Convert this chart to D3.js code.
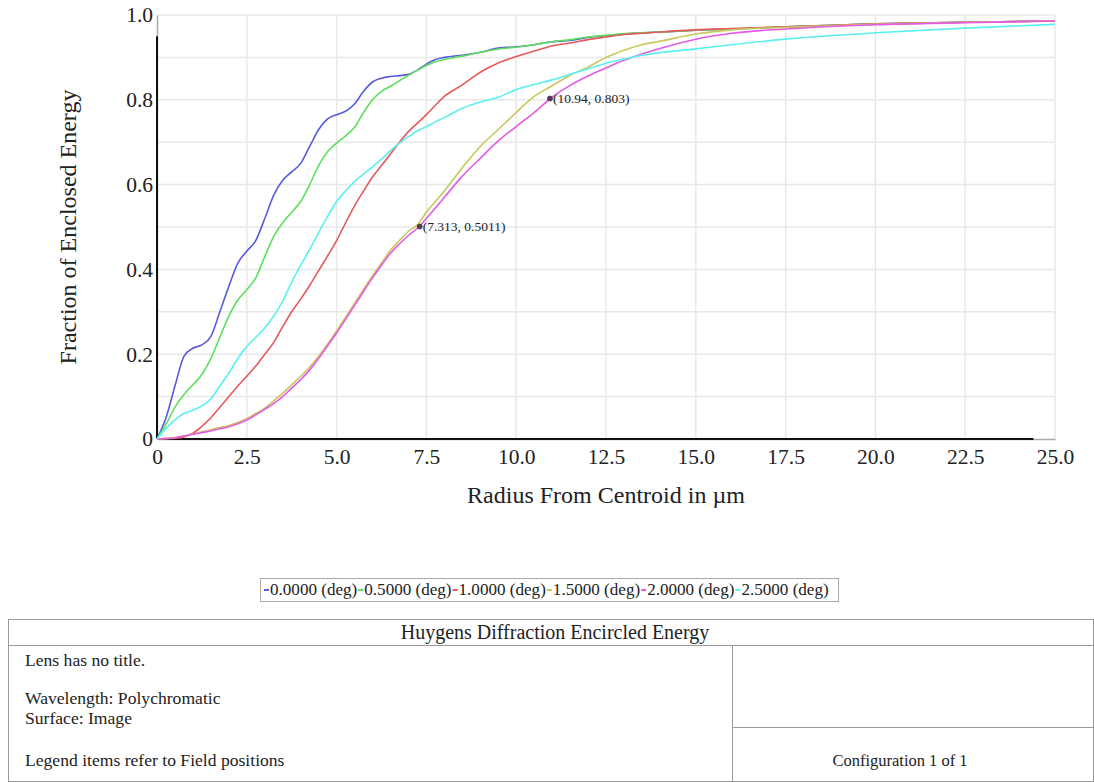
<!DOCTYPE html>
<html>
<head>
<meta charset="utf-8">
<script src="https://cdn.jsdelivr.net/npm/d3@7"></script>
<style>
  html, body { margin: 0; padding: 0; background: #fff; }
  svg { display: block; }
  svg text { font-family: "Liberation Serif", "DejaVu Serif", serif; }
</style>
</head>
<body>
<svg id="chart" width="1094" height="782"></svg>
<script>
// ---------- data ----------
const radius = [0,0.25,0.5,0.75,1,1.25,1.5,1.75,2,2.25,2.5,2.75,3,3.25,3.5,3.75,4,4.25,4.5,4.75,5,5.25,5.5,5.75,6,6.25,6.5,6.75,7,7.25,7.5,7.75,8,8.5,9,9.5,10,10.5,11,11.5,12,12.5,13,13.5,14,15,16,17.5,20,22.5,25];

const field0_0 = [0,0.05,0.125,0.195,0.214,0.222,0.242,0.3,0.36,0.415,0.443,0.468,0.52,0.575,0.61,0.63,0.65,0.69,0.73,0.755,0.765,0.773,0.79,0.82,0.842,0.851,0.855,0.857,0.86,0.87,0.884,0.895,0.9,0.905,0.912,0.922,0.925,0.93,0.937,0.94,0.947,0.951,0.955,0.958,0.96,0.964,0.967,0.972,0.979,0.983,0.986];
const field0_5 = [0,0.035,0.075,0.105,0.128,0.152,0.19,0.24,0.29,0.328,0.352,0.38,0.43,0.478,0.51,0.535,0.56,0.6,0.645,0.678,0.698,0.715,0.735,0.77,0.8,0.82,0.832,0.845,0.858,0.87,0.881,0.89,0.895,0.903,0.912,0.92,0.924,0.93,0.937,0.942,0.948,0.952,0.956,0.958,0.96,0.964,0.967,0.972,0.979,0.983,0.986];
const field1_0 = [0,0.001,0.002,0.005,0.014,0.03,0.05,0.075,0.1,0.125,0.148,0.172,0.2,0.228,0.265,0.3,0.33,0.362,0.397,0.432,0.468,0.51,0.55,0.585,0.618,0.645,0.672,0.7,0.725,0.745,0.765,0.787,0.808,0.835,0.865,0.887,0.902,0.915,0.927,0.934,0.942,0.948,0.954,0.957,0.96,0.965,0.968,0.972,0.979,0.983,0.986];
const field1_5 = [0,0.001,0.003,0.007,0.012,0.017,0.022,0.027,0.032,0.039,0.048,0.06,0.073,0.09,0.108,0.128,0.148,0.17,0.195,0.224,0.255,0.287,0.32,0.353,0.385,0.415,0.445,0.468,0.49,0.505,0.535,0.56,0.585,0.64,0.69,0.73,0.77,0.808,0.833,0.858,0.877,0.9,0.917,0.93,0.938,0.955,0.965,0.971,0.978,0.983,0.986];
const field2_0 = [0,0.001,0.003,0.007,0.011,0.015,0.019,0.024,0.029,0.036,0.045,0.057,0.07,0.084,0.1,0.12,0.14,0.163,0.19,0.22,0.25,0.282,0.315,0.348,0.38,0.41,0.438,0.46,0.48,0.497,0.52,0.545,0.57,0.62,0.662,0.703,0.737,0.77,0.806,0.834,0.856,0.875,0.893,0.908,0.921,0.943,0.957,0.967,0.977,0.982,0.986];
const field2_5 = [0,0.025,0.045,0.06,0.068,0.078,0.095,0.125,0.155,0.19,0.218,0.24,0.262,0.29,0.325,0.37,0.41,0.447,0.487,0.525,0.56,0.585,0.607,0.625,0.642,0.66,0.68,0.698,0.713,0.727,0.737,0.748,0.758,0.78,0.795,0.806,0.824,0.836,0.847,0.86,0.873,0.886,0.896,0.905,0.911,0.92,0.93,0.943,0.958,0.969,0.978];

const seriesNames = ["0.0000 (deg)","0.5000 (deg)","1.0000 (deg)","1.5000 (deg)","2.0000 (deg)","2.5000 (deg)"];
const seriesValues = [field0_0, field0_5, field1_0, field1_5, field2_0, field2_5];
const seriesColors = ["#5a5ae0","#5ce05c","#e45a5a","#c8c85a","#e65ae6","#5af0f0"];

const xTicks = [0,2.5,5,7.5,10,12.5,15,17.5,20,22.5,25];
const xTickLabels = ["0","2.5","5.0","7.5","10.0","12.5","15.0","17.5","20.0","22.5","25.0"];
const yTicks = [0,0.2,0.4,0.6,0.8,1.0];
const yTickLabels = ["0","0.2","0.4","0.6","0.8","1.0"];
const yGrid = [0.1,0.2,0.3,0.4,0.5,0.6,0.7,0.8,0.9,1.0];

const markerX = [7.313, 10.94];
const markerY = [0.5011, 0.803];
const markerLabels = ["(7.313, 0.5011)", "(10.94, 0.803)"];

const xTitle = "Radius From Centroid in µm";
const yTitle = "Fraction of Enclosed Energy";
const tableTitle = "Huygens Diffraction Encircled Energy";
const infoLines = ["Lens has no title.", "Wavelength: Polychromatic", "Surface: Image", "Legend items refer to Field positions"];
const configText = "Configuration 1 of 1";

// ---------- layout ----------
const SERIF = "Liberation Serif, DejaVu Serif, serif";
const svg = d3.select("#chart");
const x = d3.scaleLinear().domain([0, 25]).range([157, 1055]);
const y = d3.scaleLinear().domain([0, 1]).range([439, 15]);

// grid
const grid = svg.append("g");
grid.selectAll("line.v").data(xTicks.slice(1)).join("line")
  .attr("x1", d => x(d)).attr("x2", d => x(d))
  .attr("y1", y(1)).attr("y2", y(0))
  .attr("stroke", "#e8e8e8").attr("stroke-width", 1.5);
grid.selectAll("line.h").data(yGrid).join("line")
  .attr("x1", x(0)).attr("x2", x(25))
  .attr("y1", d => y(d)).attr("y2", d => y(d))
  .attr("stroke", "#e8e8e8").attr("stroke-width", 1.5);

// axes
const xAxis = d3.axisBottom(x).tickValues(xTicks).tickFormat((d, i) => xTickLabels[i]).tickSize(0).tickPadding(10);
const yAxis = d3.axisLeft(y).tickValues(yTicks).tickFormat((d, i) => yTickLabels[i]).tickSize(0).tickPadding(4);

const gx = svg.append("g").attr("transform", `translate(0,${y(0)})`).call(xAxis);
gx.attr("font-family", SERIF);
gx.select(".domain").attr("stroke", "#aaa").attr("stroke-width", 1.5);
gx.append("line").attr("x1", x(0)).attr("x2", x(24.4)).attr("y1", 0).attr("y2", 0)
  .attr("stroke", "#111").attr("stroke-width", 2);
gx.selectAll(".tick text").attr("font-size", 21.5).attr("fill", "#222")
  .attr("font-family", SERIF);

const gy = svg.append("g").attr("transform", `translate(${x(0)},0)`).call(yAxis);
gy.attr("font-family", SERIF);
gy.select(".domain").attr("stroke", "#aaa").attr("stroke-width", 1.5);
gy.append("line").attr("x1", 0).attr("x2", 0).attr("y1", y(0.95)).attr("y2", y(0))
  .attr("stroke", "#111").attr("stroke-width", 2);
gy.selectAll(".tick text").attr("font-size", 21.5).attr("fill", "#222")
  .attr("font-family", SERIF);

// lines
const line = d3.line()
  .x((d, i) => x(radius[i]))
  .y(d => y(d))
  .curve(d3.curveMonotoneX);

svg.append("g").selectAll("path").data(seriesValues).join("path")
  .attr("d", d => line(d))
  .attr("fill", "none")
  .attr("stroke", (d, i) => seriesColors[i])
  .attr("stroke-width", 1.6);

// markers
const mk = svg.append("g");
markerX.forEach((mx, i) => {
  mk.append("circle").attr("cx", x(mx)).attr("cy", y(markerY[i])).attr("r", 2.5)
    .attr("fill", "#5a3a5a").attr("stroke", "#333").attr("stroke-width", 0.8);
  mk.append("text").attr("x", x(mx) + 3).attr("y", y(markerY[i]) + 4.5)
    .attr("font-family", SERIF).attr("font-size", 13.5).attr("fill", "#222").text(markerLabels[i]);
});

// axis titles
svg.append("text").attr("x", 606).attr("y", 503).attr("text-anchor", "middle")
  .attr("font-family", SERIF).attr("font-size", 24).attr("fill", "#222").text(xTitle);
svg.append("text").attr("transform", "translate(76,227) rotate(-90)").attr("text-anchor", "middle")
  .attr("font-family", SERIF).attr("font-size", 24).attr("fill", "#222").text(yTitle);

// legend
const legX = 260, legY = 578, legW = 578, legH = 23;
svg.append("rect").attr("x", legX + 0.5).attr("y", legY + 0.5).attr("width", legW).attr("height", legH)
  .attr("fill", "#fff").attr("stroke", "#aaa").attr("stroke-width", 1);
const leg = svg.append("g");
let fs = 15.5;
const items = seriesNames.map((name, i) => {
  const dash = leg.append("line").attr("stroke", seriesColors[i]).attr("stroke-width", 2);
  const t = leg.append("text").attr("font-family", SERIF).attr("font-size", fs).attr("fill", "#222").text(name);
  return { dash, t };
});
let total = 0;
items.forEach(it => { total += 7 + it.t.node().getComputedTextLength(); });
const scale = (legW - 8) / total;
fs = fs * scale;
let cx = legX + 4;
items.forEach(it => {
  it.t.attr("font-size", fs);
  it.dash.attr("x1", cx).attr("x2", cx + 5).attr("y1", legY + 12).attr("y2", legY + 12);
  cx += 6;
  it.t.attr("x", cx).attr("y", legY + 17);
  cx += it.t.node().getComputedTextLength() + 1;
});

// table
const tb = svg.append("g").attr("stroke", "#999").attr("stroke-width", 1).attr("fill", "none");
tb.append("rect").attr("x", 8.5).attr("y", 619.5).attr("width", 1085).attr("height", 162);
tb.append("line").attr("x1", 8.5).attr("x2", 1093.5).attr("y1", 645.5).attr("y2", 645.5);
tb.append("line").attr("x1", 732.5).attr("x2", 732.5).attr("y1", 645.5).attr("y2", 781.5);
tb.append("line").attr("x1", 732.5).attr("x2", 1093.5).attr("y1", 727.5).attr("y2", 727.5);

const tt = svg.append("g").attr("fill", "#222").attr("font-family", SERIF);
tt.append("text").attr("x", 555).attr("y", 639).attr("text-anchor", "middle").attr("font-size", 20).text(tableTitle);
const infoY = [666, 704, 724, 766];
infoLines.forEach((s, i) => {
  tt.append("text").attr("x", 25).attr("y", infoY[i]).attr("font-size", 17.6).text(s);
});
tt.append("text").attr("x", 900).attr("y", 766).attr("text-anchor", "middle").attr("font-size", 16.5).text(configText);
</script>
</body>
</html>
